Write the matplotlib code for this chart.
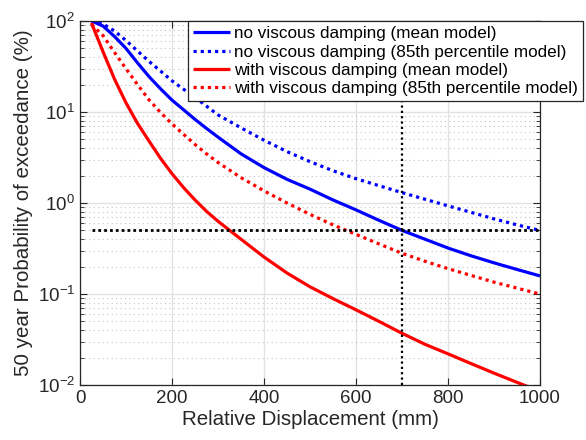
import matplotlib
matplotlib.use("Agg")
import matplotlib.pyplot as plt
from matplotlib.ticker import LogLocator, NullFormatter, FixedLocator

plt.rcParams['font.family'] = ['Liberation Sans', 'DejaVu Sans']
plt.rcParams['mathtext.fontset'] = 'custom'
plt.rcParams['mathtext.rm'] = 'Liberation Sans'
plt.rcParams['mathtext.it'] = 'Liberation Sans:italic'

# Relative displacement (mm)
disp = [25, 50, 75, 100, 125, 150, 175, 200, 225, 250, 275, 300,
        350, 400, 450, 500, 550, 600, 650, 700, 750, 800, 850, 900, 950, 1000]

# 50-year probability of exceedance (%)
prob_no_mean = [100, 88, 67.6, 50, 34.7, 24.5, 18, 13.5, 10.6, 8.3, 6.6, 5.3,
                3.47, 2.45, 1.82, 1.42, 1.08, 0.84, 0.645, 0.5, 0.40, 0.32, 0.263, 0.22, 0.186, 0.158]
prob_no_p85 = [100, 92.9, 77.6, 61, 46.8, 36, 28.2, 22, 17.8, 14.5, 11.6, 9.3,
               6.7, 4.9, 3.67, 2.85, 2.26, 1.85, 1.55, 1.3, 1.1, 0.93, 0.79, 0.67, 0.575, 0.5]
prob_with_mean = [95, 46, 23, 12.6, 7.5, 4.8, 3.1, 2.1, 1.48, 1.08, 0.81, 0.63,
                  0.4, 0.255, 0.17, 0.12, 0.089, 0.067, 0.05, 0.037, 0.028, 0.022, 0.0172, 0.0135, 0.0107, 0.0085]
prob_with_p85 = [91.2, 69.2, 45.2, 29.9, 20, 13.6, 9.9, 7.4, 5.7, 4.4, 3.47, 2.79,
                 1.9, 1.36, 1.0, 0.75, 0.575, 0.452, 0.355, 0.28, 0.229, 0.19, 0.16, 0.135, 0.116, 0.1]

target_prob = 0.5      # % in 50 years
target_disp = 700      # mm
ref_x = [25, 1000]
ref_y = [0.01, 100]

labels = ["no viscous damping (mean model)",
          "no viscous damping (85th percentile model)",
          "with viscous damping (mean model)",
          "with viscous damping (85th percentile model)"]

axcol = '#262626'
fig = plt.figure(figsize=(5.86, 4.40), dpi=100)
ax = fig.add_axes([80/586, 55/440, 460/586, 364/440])

lw = 2.3
dots = (0, (1, 1.25))
ax.plot(disp, prob_no_mean, color='#0000ff', lw=lw, label=labels[0], solid_capstyle='butt')
ax.plot(disp, prob_no_p85, color='#0000ff', lw=lw, linestyle=dots, label=labels[1])
ax.plot(disp, prob_with_mean, color='#ff0000', lw=lw, label=labels[2], solid_capstyle='butt')
ax.plot(disp, prob_with_p85, color='#ff0000', lw=lw, linestyle=dots, label=labels[3])

ax.plot(ref_x, [target_prob, target_prob], color='black', lw=2.0, linestyle=(0, (1, 1.1)))
ax.plot([target_disp, target_disp], ref_y, color='black', lw=1.6, linestyle=(0, (1, 1.4)))

ax.set_yscale('log')
ax.set_xlim(0, 1000)
ax.set_ylim(1e-2, 1e2)
ax.xaxis.set_major_locator(FixedLocator([0, 200, 400, 600, 800, 1000]))
ax.yaxis.set_major_locator(LogLocator(base=10, numticks=10))
ax.yaxis.set_minor_locator(LogLocator(base=10, subs=range(2, 10), numticks=10))
ax.yaxis.set_minor_formatter(NullFormatter())

ax.grid(True, which='major', color='#e3e3e3', lw=1.0, linestyle='-')
ax.grid(True, which='minor', axis='y', color='#c4c4c4', lw=0.8, linestyle=(0, (1, 3)))
ax.set_axisbelow(True)

ax.tick_params(which='both', direction='in', top=True, right=True, colors=axcol,
               labelsize=13.5)
ax.tick_params(which='major', length=5, width=0.8)
ax.tick_params(which='minor', length=3, width=0.6)
for s in ax.spines.values():
    s.set_color(axcol)
    s.set_linewidth(0.9)

ax.set_xlabel("Relative Displacement (mm)", fontsize=14.8, color=axcol, labelpad=2)
ax.set_ylabel("50 year Probability of exceedance (%)", fontsize=14.8, color=axcol, labelpad=3)

leg = ax.legend(loc='upper right', bbox_to_anchor=(1.0935, 1.0), borderaxespad=0,
                fontsize=12.3, frameon=True, fancybox=False, framealpha=1,
                edgecolor=axcol, handlelength=2.15, handletextpad=0.25,
                labelspacing=0.2, borderpad=0.3)
leg.get_frame().set_linewidth(0.9)
for t in leg.get_texts():
    t.set_color('black')

fig.savefig("out.png", dpi=100)
